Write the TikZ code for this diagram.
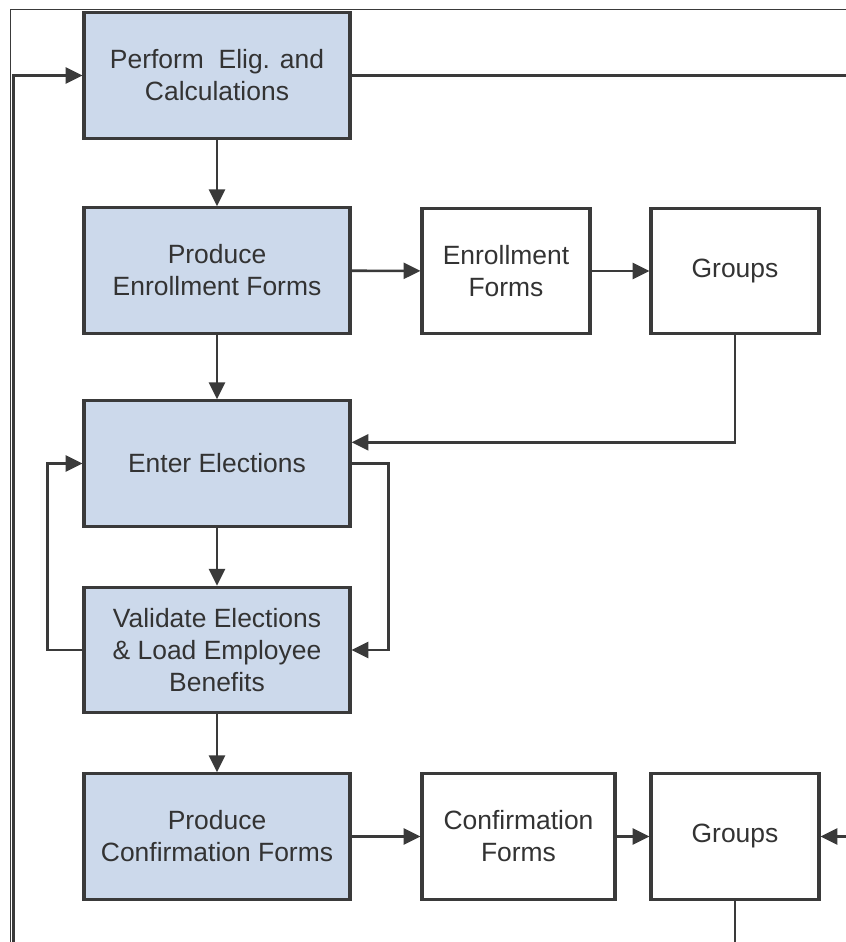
\documentclass[tikz,border=0pt]{standalone}
\usepackage{fontspec}
\setmainfont{Liberation Sans}
\usetikzlibrary{arrows.meta}

\definecolor{linegray}{HTML}{3A3A3A}
\definecolor{textgray}{HTML}{333333}
\definecolor{procblue}{HTML}{CCD9EB}
\newcommand\diagfont{\fontsize{18.8}{22.8}\selectfont}

\begin{document}
\begin{tikzpicture}[x=0.025cm, y=-0.025cm,
	proc/.style={rectangle, draw=linegray, fill=procblue, line width=2.2pt, minimum width=6.65cm, minimum height=3.14cm, align=center, text=textgray, font=\diagfont},
	store/.style={rectangle, draw=linegray, fill=white, line width=2.2pt, minimum height=3.14cm, align=center, text=textgray, font=\diagfont},
	link/.style={draw=linegray, line width=1.8pt},
	>={Triangle[length=0.42cm, width=0.4cm]}]
	\useasboundingbox (0,0) rectangle (846,942);

	% frame of the page
	\draw [linegray, line width=0.6pt] (10.5,942) -- (10.5,9.5) -- (846,9.5);

	\node at (217,75.5) [proc] (perf) {Perform~ Elig. and\\Calculations};
	\node at (217,270.5) [proc] (enrprod) {Produce\\Enrollment Forms};
	\node at (506,271) [store, minimum width=4.2cm] (enrform) {Enrollment\\Forms};
	\node at (735,271) [store, minimum width=4.2cm] (grp1) {Groups};
	\node at (217,463.5) [proc] (enter) {Enter Elections};
	\node at (217,650) [proc] (valid) {Validate Elections\\\& Load Employee\\Benefits};
	\node at (217,836.5) [proc] (confprod) {Produce\\Confirmation Forms};
	\node at (518.5,836.5) [store, minimum width=4.825cm] (confform) {Confirmation\\Forms};
	\node at (735,836.5) [store, minimum width=4.2cm] (grp2) {Groups};

	\coordinate (loopin) at (13.7,942);
	\coordinate (topout) at (846,75.5);
	\coordinate (sidein) at (846,836.5);
	\coordinate (botout) at (735,942);

	\draw [link, ->] (loopin) |- (perf.west);
	\draw [link] (perf.east) -- (topout);
	\draw [link, ->] (perf) -- (enrprod);
	\draw [link, ->] (enrprod) -- (enrform);
	\draw [link, ->] (enrform) -- (grp1);
	\draw [link, ->] (grp1.south) |- ([yshift=0.53cm]enter.east);
	\draw [link, ->] (enrprod) -- (enter);
	\draw [link, ->] (enter) -- (valid);
	\draw [link, ->] (enter.east) -- ++(37,0) |- (valid.east);
	\draw [link, ->] (valid.west) -- ++(-35,0) |- (enter.west);
	\draw [link, ->] (valid) -- (confprod);
	\draw [link, ->] (confprod) -- (confform);
	\draw [link, ->] (confform) -- (grp2);
	\draw [link, ->] (sidein) -- (grp2.east);
	\draw [link] (grp2.south) -- (botout);
\end{tikzpicture}
\end{document}
